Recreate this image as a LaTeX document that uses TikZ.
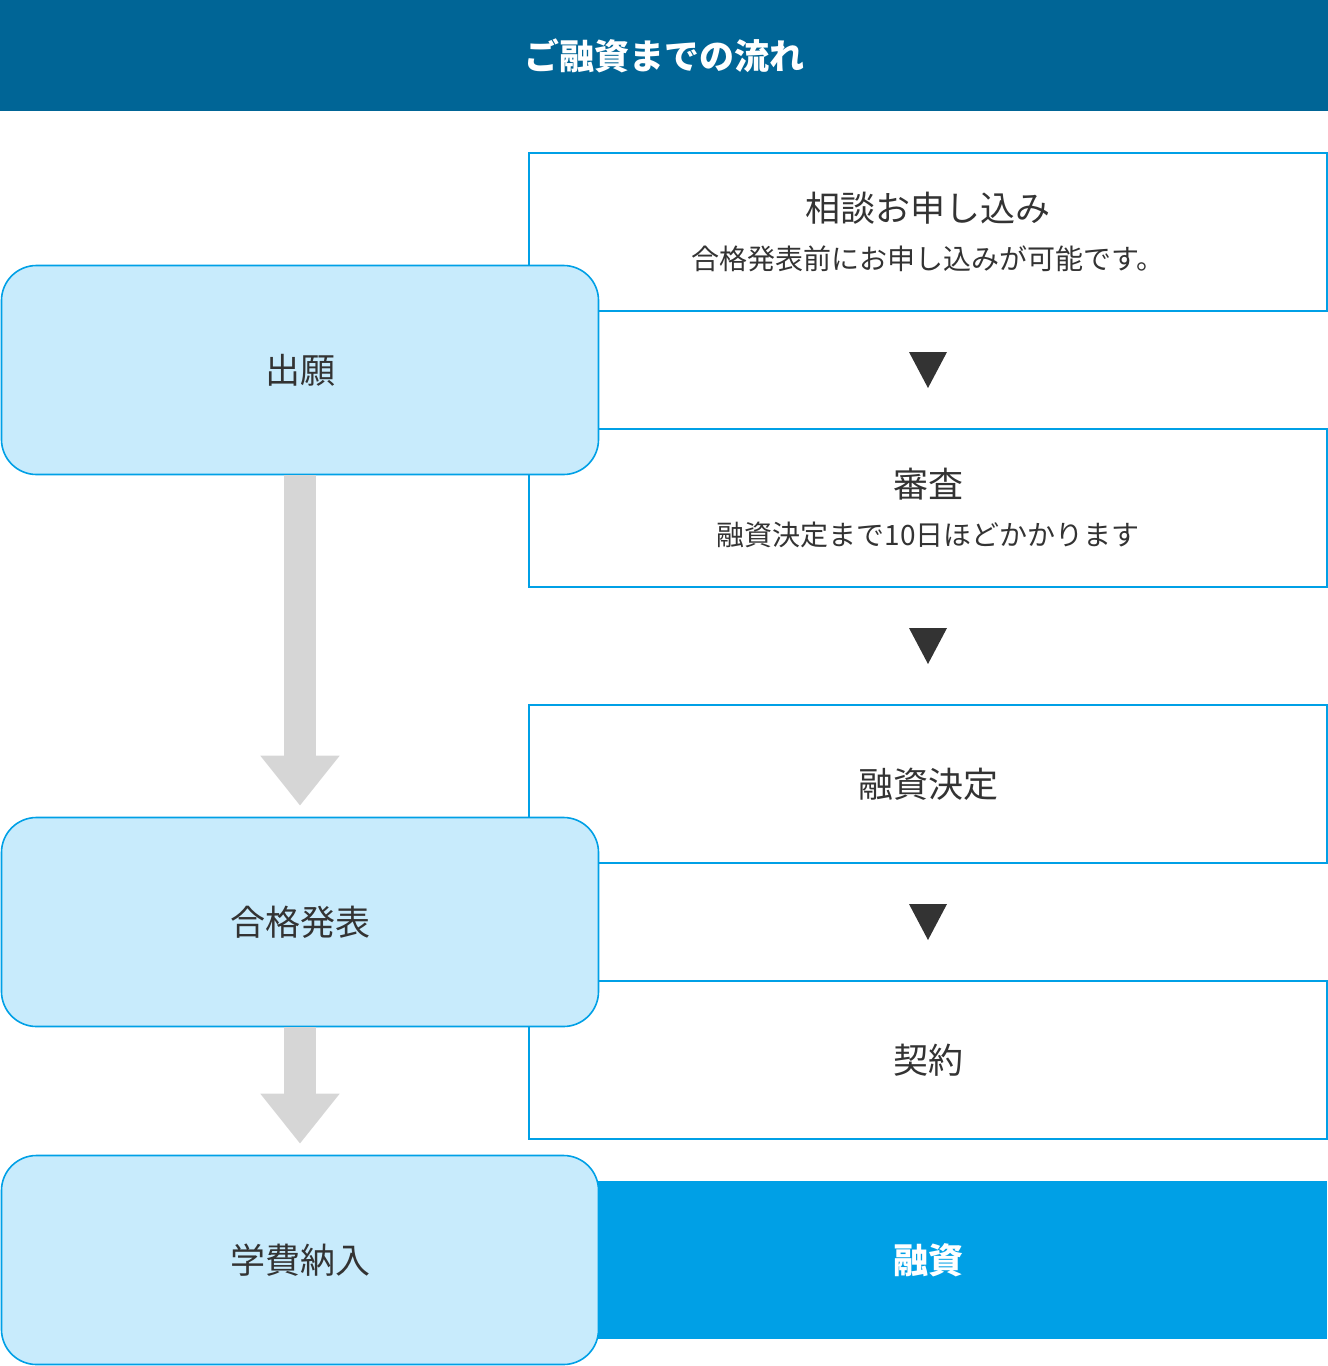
\documentclass[tikz,border=0pt]{standalone}
\usepackage{fontspec}
\setmainfont{Noto Sans CJK JP}
\usetikzlibrary{positioning,arrows.meta,calc}

\definecolor{headblue}{RGB}{0,101,150}
\definecolor{lineblue}{RGB}{0,160,230}
\definecolor{paleblue}{RGB}{200,235,252}
\definecolor{textgray}{RGB}{51,51,51}
\definecolor{arrowgray}{RGB}{214,214,214}

\begin{document}
\begin{tikzpicture}[x=1pt,y=-1pt]

  \useasboundingbox (0,0) rectangle (1328,1366);

  \coordinate (Head) at (664,56);
  \coordinate (Consult) at (928,232);
  \coordinate (Review) at (928,508);
  \coordinate (Decide) at (928,784);
  \coordinate (Contract) at (928,1060);
  \coordinate (Loan) at (928,1260);
  \coordinate (Apply) at (300,370);
  \coordinate (Pass) at (300,922);
  \coordinate (Fee) at (300,1260);

  \tikzstyle{sbox}=[draw=lineblue,line width=2pt,
                    shape=rectangle,fill=white,
                    minimum width=798pt,minimum height=158pt,
                    text=textgray,align=center,inner sep=0pt];
  \tikzstyle{lbox}=[draw=lineblue,line width=1.6pt,
                    shape=rectangle,rounded corners=35pt,
                    fill=paleblue,
                    minimum width=597pt,minimum height=209pt,
                    text=textgray,inner sep=0pt,
                    font=\fontsize{35}{42}\selectfont];
  \tikzstyle{tri}=[fill=textgray];
  \tikzstyle{garrow}=[draw=arrowgray,line width=32pt,
                      -{Triangle[width=76pt,length=50pt]},shorten >=11pt];

  % header
  \fill[headblue] (0,0) rectangle (1328,111);
  \node[text=white,font=\fontsize{35}{42}\selectfont\bfseries] (HeadText) at (Head) {ご融資までの流れ};

  % right column
  \node[sbox] (ConsultBox) at (Consult) {{\fontsize{35}{42}\selectfont 相談お申し込み}\\[21pt]
    {\fontsize{28}{32}\selectfont 合格発表前にお申し込みが可能です。}};
  \node[sbox] (ReviewBox) at (Review) {{\fontsize{35}{42}\selectfont 審査}\\[21pt]
    {\fontsize{28}{32}\selectfont 融資決定まで10日ほどかかります}};
  \node[sbox,font=\fontsize{35}{42}\selectfont] (DecideBox) at (Decide) {融資決定};
  \node[sbox,font=\fontsize{35}{42}\selectfont] (ContractBox) at (Contract) {契約};
  \node[sbox,draw=none,fill=lineblue,text=white,
        font=\fontsize{35}{42}\selectfont\bfseries] (LoanBox) at (Loan) {融資};

  \fill[tri] ($(ConsultBox.south)!0.5!(ReviewBox.north)$) +(-19,-18) -- +(19,-18) -- +(0,18) -- cycle;
  \fill[tri] ($(ReviewBox.south)!0.5!(DecideBox.north)$) +(-19,-18) -- +(19,-18) -- +(0,18) -- cycle;
  \fill[tri] ($(DecideBox.south)!0.5!(ContractBox.north)$) +(-19,-18) -- +(19,-18) -- +(0,18) -- cycle;

  % left column
  \node[lbox] (ApplyBox) at (Apply) {出願};
  \node[lbox] (PassBox) at (Pass) {合格発表};
  \node[lbox] (FeeBox) at (Fee) {学費納入};

  \draw[garrow] (ApplyBox.south) -- (PassBox.north);
  \draw[garrow] (PassBox.south) -- (FeeBox.north);

\end{tikzpicture}
\end{document}
